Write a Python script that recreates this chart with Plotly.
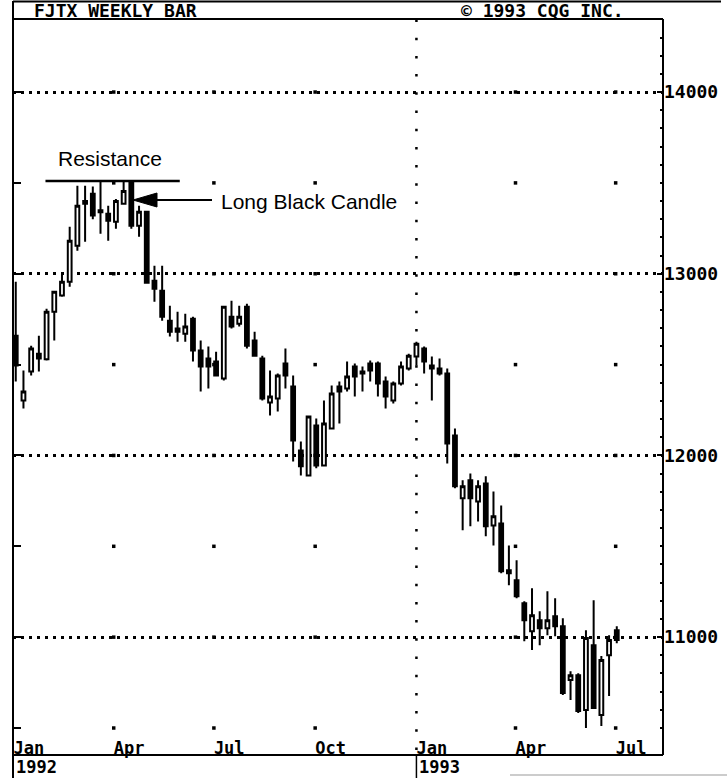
import plotly.graph_objects as go
import pandas as pd

# ---------------- data (weekly bars, FJTX) ----------------
week_dates = pd.date_range("1992-01-03", periods=79, freq="7D")
opens = [12659, 12302, 12462, 12560, 12530, 12791, 12880, 12956, 13154, 13401,
         13440, 13350, 13330, 13286, 13385, 13500, 13264, 13341, 12962, 12907,
         12742, 12698, 12670, 12753, 12577, 12533, 12517, 12423, 12764, 12725,
         12819, 12632, 12533, 12291, 12313, 12506, 12379, 12027, 11890, 12165,
         11945, 12148, 12379, 12368, 12489, 12462, 12506, 12506, 12407, 12302,
         12396, 12478, 12544, 12588, 12495, 12478, 12451, 12110, 11764, 11863,
         11747, 11846, 11615, 11626, 11368, 11313, 11187, 11033, 11093, 11049,
         11115, 11060, 10764, 10791, 10599, 10956, 10571, 10901, 11038]
highs = [12956, 12467, 12604, 12659, 12808, 12907, 13000, 13258, 13484, 13484,
         13480, 13506, 13374, 13412, 13506, 13506, 13374, 13346, 13044, 13044,
         12824, 12791, 12780, 12764, 12632, 12599, 12571, 12824, 12852, 12824,
         12835, 12681, 12549, 12467, 12451, 12588, 12440, 12077, 12220, 12203,
         12302, 12385, 12407, 12517, 12506, 12489, 12522, 12517, 12434, 12407,
         12517, 12560, 12626, 12599, 12544, 12533, 12478, 12148, 11863, 11901,
         11863, 11885, 11802, 11725, 11505, 11423, 11198, 11269, 11143, 11253,
         11214, 11104, 10813, 10802, 11038, 11203, 10896, 11011, 11060]
lows = [12407, 12258, 12440, 12462, 12522, 12632, 12874, 12929, 13126, 13176,
        13300, 13220, 13181, 13247, 13380, 13247, 13203, 12945, 12846, 12742,
        12654, 12626, 12626, 12517, 12352, 12368, 12434, 12412, 12698, 12709,
        12588, 12544, 12302, 12220, 12242, 12368, 11967, 11890, 11885, 11929,
        11940, 12145, 12176, 12352, 12324, 12352, 12407, 12324, 12258, 12286,
        12385, 12467, 12495, 12451, 12302, 12440, 11956, 11819, 11588, 11610,
        11637, 11555, 11505, 11352, 11286, 11214, 10978, 10929, 10956, 11011,
        11005, 10681, 10654, 10582, 10500, 10610, 10511, 10676, 10967]
closes = [12495, 12352, 12588, 12533, 12791, 12901, 12956, 13181, 13374, 13385,
          13320, 13338, 13291, 13401, 13456, 13264, 13341, 12950, 12918, 12764,
          12681, 12681, 12709, 12577, 12489, 12489, 12440, 12819, 12709, 12764,
          12604, 12549, 12313, 12324, 12440, 12440, 12082, 11940, 12214, 11945,
          12176, 12341, 12352, 12434, 12434, 12451, 12467, 12396, 12324, 12396,
          12489, 12549, 12615, 12517, 12478, 12451, 12066, 11830, 11830, 11764,
          11830, 11610, 11665, 11363, 11352, 11225, 11093, 11121, 11049, 11093,
          11060, 10692, 10791, 10593, 10995, 10610, 10874, 10984, 10984]

tick_dates = ["1992-01-01", "1992-04-01", "1992-07-01", "1992-10-01",
              "1993-01-01", "1993-04-01", "1993-07-01"]
tick_text = ["Jan", "Apr", "Jul", "Oct", "Jan", "Apr", "Jul"]
year_dates = ["1992-01-01", "1993-01-01"]
year_text = ["1992", "1993"]
quarter_dot_dates = ["1992-04-01", "1992-07-01", "1992-10-01", "1993-04-01", "1993-07-01"]
half_levels = list(range(10500, 14001, 500))
resistance_level = 13510
resistance_span = ["1992-01-30", "1992-05-31"]

# ---------------- layout geometry (pixels) ----------------
W, H = 727, 778
L, R, T, B = 13, 663, 19, 736
Y_RANGE = [10456, 14402]
X_RANGE = ["1991-12-31 12:00", "1993-08-13"]


def px(x):
    return (x - L) / (R - L)


def py(y):
    return (B - y) / (B - T)


MONO = "DejaVu Sans Mono"
SANS = "Liberation Sans, Arial, sans-serif"

fig = go.Figure()

fig.add_trace(go.Candlestick(
    x=week_dates, open=opens, high=highs, low=lows, close=closes,
    increasing=dict(line=dict(color="black", width=2), fillcolor="white"),
    decreasing=dict(line=dict(color="black", width=2), fillcolor="black"),
    whiskerwidth=0, showlegend=False, hoverinfo="skip",
))

# grid intersection dots at quarters x half-thousand levels
dx, dy = [], []
for d in quarter_dot_dates:
    for lv in half_levels:
        dx.append(d)
        dy.append(lv)
fig.add_trace(go.Scatter(
    x=dx, y=dy, mode="markers", yaxis="y2",
    marker=dict(size=3.5, color="black", symbol="square"),
    showlegend=False, hoverinfo="skip",
))

shapes = []
line_k = dict(color="black", width=2)
# frame
shapes.append(dict(type="line", xref="paper", yref="paper", x0=px(L), x1=px(L), y0=py(1), y1=py(778), line=line_k))
shapes.append(dict(type="line", xref="paper", yref="paper", x0=px(L), x1=px(721), y0=py(1.5), y1=py(1.5), line=line_k))
shapes.append(dict(type="line", xref="paper", yref="paper", x0=px(L), x1=px(R), y0=py(T), y1=py(T), line=line_k))
shapes.append(dict(type="line", xref="paper", yref="paper", x0=px(R), x1=px(R), y0=py(T), y1=py(755), line=line_k))
shapes.append(dict(type="line", xref="paper", yref="paper", x0=px(L), x1=px(R), y0=py(755), y1=py(755), line=line_k))
shapes.append(dict(type="line", xref="x", yref="paper", x0=year_dates[1], x1=year_dates[1], y0=py(755), y1=py(778), line=dict(color="black", width=1.5)))
shapes.append(dict(type="line", xref="paper", yref="paper", x0=px(510), x1=px(727), y0=py(775), y1=py(775), line=dict(color="#bbbbbb", width=1.5)))
# Jan 1993 dotted vertical
shapes.append(dict(type="line", xref="x", yref="paper", x0=year_dates[1], x1=year_dates[1], y0=py(750), y1=py(T),
                   line=dict(color="black", width=2.5, dash="2.5px,15.7px"), layer="below"))
# resistance line
shapes.append(dict(type="line", xref="x", yref="y", x0=resistance_span[0], x1=resistance_span[1],
                   y0=resistance_level, y1=resistance_level, line=dict(color="black", width=2.5)))
# arrow (shaft + head) pointing at the long black candle
shapes.append(dict(type="line", xref="paper", yref="paper", x0=px(155), x1=px(212), y0=py(200), y1=py(200),
                   line=dict(color="black", width=2)))
shapes.append(dict(type="path", xref="paper", yref="paper",
                   path=f"M {px(133)},{py(200)} L {px(157)},{py(193)} L {px(157)},{py(207)} Z",
                   fillcolor="black", line=dict(color="black", width=1)))

cqg_font = dict(family=MONO, size=18, color="black", weight="bold")
annotations = [
    dict(text="FJTX WEEKLY BAR", xref="paper", yref="paper", x=px(32), y=py(10.5),
         xanchor="left", yanchor="middle", showarrow=False, font=cqg_font),
    dict(text="© 1993 CQG INC.", xref="paper", yref="paper", x=px(459), y=py(10.5),
         xanchor="left", yanchor="middle", showarrow=False, font=cqg_font),
    dict(text=year_text[0], xref="paper", yref="paper", x=px(14), y=py(767),
         xanchor="left", yanchor="middle", showarrow=False, font=dict(cqg_font, size=17)),
    dict(text=year_text[1], xref="x", yref="paper", x=year_dates[1], xshift=1, y=py(767),
         xanchor="left", yanchor="middle", showarrow=False, font=dict(cqg_font, size=17)),
    dict(text="Resistance", xref="paper", yref="paper", x=px(110), y=py(158),
         xanchor="center", yanchor="middle", showarrow=False, font=dict(family=SANS, size=21, color="black")),
    dict(text="Long Black Candle", xref="paper", yref="paper", x=px(219), y=py(201),
         xanchor="left", yanchor="middle", showarrow=False, font=dict(family=SANS, size=21, color="black")),
]

fig.update_layout(
    width=W, height=H,
    margin=dict(l=L, r=W - R, t=T, b=H - B, pad=0, autoexpand=False),
    paper_bgcolor="white", plot_bgcolor="white",
    showlegend=False,
    shapes=shapes, annotations=annotations,
    boxgap=0.3,
    xaxis=dict(
        type="date", range=X_RANGE, rangeslider=dict(visible=False), automargin=False,
        tickmode="array", tickvals=tick_dates, ticktext=tick_text,
        ticks="", showgrid=False, zeroline=False, showline=False,
        ticklabelposition="outside right",
        tickfont=dict(cqg_font, size=17),
    ),
    yaxis=dict(
        range=Y_RANGE, side="right", tickmode="linear", tick0=0, dtick=1000,
        tickformat="d", automargin=False,
        ticks="inside", ticklen=6, tickwidth=2, tickcolor="black",
        showline=False, zeroline=False,
        showgrid=True, gridcolor="black", gridwidth=2.5, griddash="2.5px,5.5px",
        tickfont=cqg_font,
        minor=dict(tick0=0, dtick=100, ticks="inside", ticklen=3, tickwidth=1.5, tickcolor="black", showgrid=False),
    ),
    yaxis2=dict(
        range=Y_RANGE, overlaying="y", side="left", anchor="x", automargin=False,
        tickmode="array", tickvals=half_levels, ticks="inside", ticklen=8, tickwidth=2,
        tickcolor="black", showticklabels=False, showgrid=False, zeroline=False, showline=False,
    ),
)

fig.write_html(
    "out.html",
    config={"displayModeBar": False},
    post_script="document.body.style.margin='0px';document.body.style.padding='0px';",
)
